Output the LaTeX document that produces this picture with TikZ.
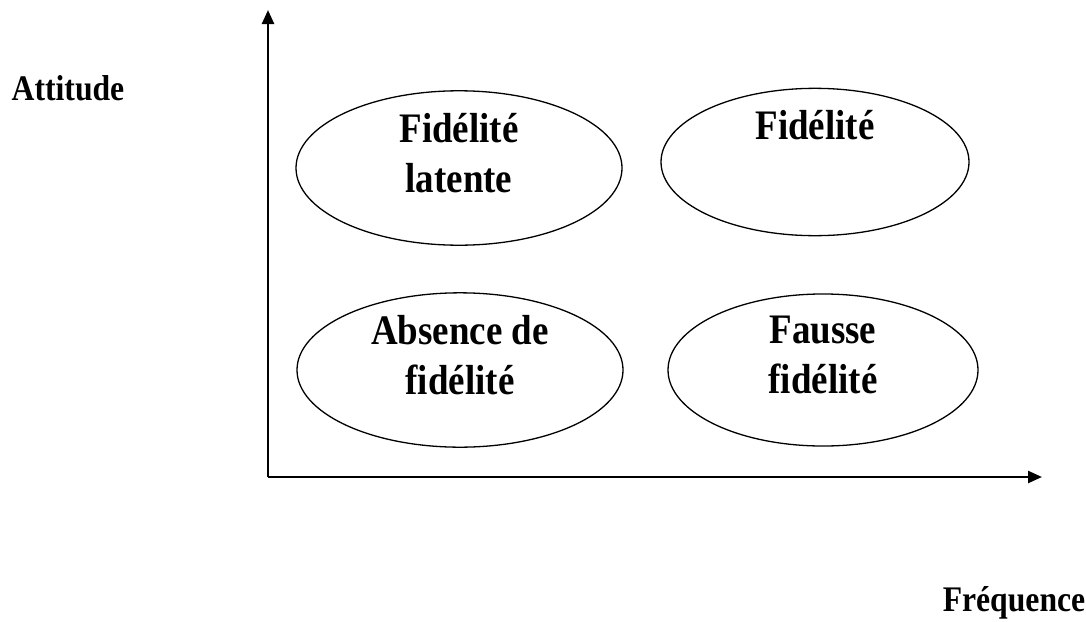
\documentclass[tikz,border=0pt]{standalone}
\usepackage{fontspec}
\setmainfont{Liberation Serif}[FakeStretch=0.88]
\usetikzlibrary{shapes.geometric,arrows.meta}
\tikzset{
  zone/.style={ellipse,draw,line width=1.3pt,inner sep=0pt,align=center,
    text depth=30pt,font=\bfseries\fontsize{42}{50}\selectfont},
  axe/.style={line width=2.4pt,-{Triangle[length=14pt,width=12pt]}},
  lab/.style={font=\bfseries\fontsize{36}{40}\selectfont}
}
\begin{document}
\begin{tikzpicture}[x=1pt,y=-1pt]
                    \useasboundingbox (0,0) rectangle (1086,621);
                    \coordinate (o) at (268,477);
                    \coordinate (ytip) at (268,10);
                    \coordinate (xtip) at (1042,477);
                    \draw[axe] (o) -- (ytip);
                    \draw[axe] (o) -- (xtip);
                    \node[lab] (att) at (68,88) {Attitude};
                    \node[lab] (freq) at (1014,603) {Fréquence};
                    \node[zone,minimum width=326pt,minimum height=140pt] (fl) at (459,168) {Fidélité\\latente};
                    \node[zone,text depth=75pt,minimum width=308pt,minimum height=128pt] (fi) at (815,162) {Fidélité};
                    \node[zone,minimum width=326pt,minimum height=134pt] (af) at (460,370) {Absence de\\fidélité};
                    \node[zone,minimum width=310pt,minimum height=136pt] (ff) at (823,370) {Fausse\\fidélité};
\end{tikzpicture}
\end{document}
